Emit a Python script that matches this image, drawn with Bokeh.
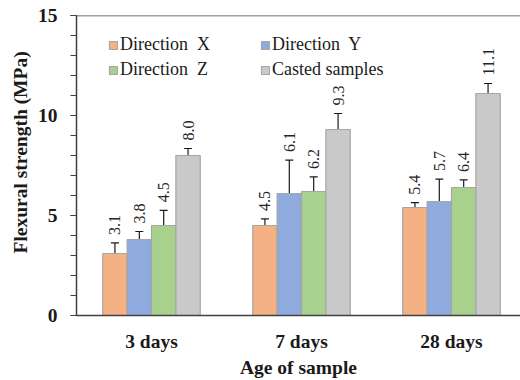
import numpy as np
from bokeh.plotting import figure
from bokeh.models import (ColumnDataSource, Range1d, FixedTicker, SingleIntervalTicker,
                          Whisker, TeeHead, Legend, LegendItem, Span, Title)
from bokeh.core.properties import value
from bokeh.embed import file_html
from bokeh.resources import INLINE

# ---- data ----
days = ["3 days", "7 days", "28 days"]
series_names = ["Direction  X", "Direction  Y", "Direction  Z", "Casted samples"]
dir_x = [3.1, 4.5, 5.4]
dir_y = [3.8, 6.1, 5.7]
dir_z = [4.5, 6.2, 6.4]
casted = [8.0, 9.3, 11.1]
err_x = [0.53, 0.33, 0.24]
err_y = [0.40, 1.67, 1.12]
err_z = [0.76, 0.73, 0.38]
err_c = [0.35, 0.80, 0.50]
y_ticks_major = 5

values = [dir_x, dir_y, dir_z, casted]
errors = [err_x, err_y, err_z, err_c]
colors = ["#F4B183", "#8FAADC", "#A9D18E", "#C9C9C9"]

SERIF = "Liberation Serif"
AXIS_COL = "#404040"

p = figure(width=520, height=380, output_backend="svg", toolbar_location=None,
           x_range=Range1d(0.0, 2.96), y_range=Range1d(0, 15),
           min_border_left=76, min_border_right=0, min_border_top=15, min_border_bottom=65)
p.outline_line_color = None
p.xgrid.visible = False
p.ygrid.visible = False
p.background_fill_color = None
p.border_fill_color = None

bar_w = 0.1625
centers = np.arange(len(days)) + 0.5
items = []
for j, (vals, errs, col, name) in enumerate(zip(values, errors, colors, series_names)):
    xs = centers + (j - 1.5) * bar_w
    v = np.array(vals)
    e = np.array(errs)
    src = ColumnDataSource(dict(x=xs, top=v, upper=v + e, lower=v - e,
                                lab=[f"{t:.1f}" for t in vals]))
    r = p.vbar(x="x", top="top", width=bar_w, source=src, fill_color=col,
               line_color="#A6A6A6", line_width=1.2)
    items.append(LegendItem(label=name, renderers=[r]))
    wk = Whisker(source=src, base="x", upper="upper", lower="lower",
                 line_color="#1a1a1a", line_width=1.2,
                 upper_head=TeeHead(size=8, line_color="#1a1a1a", line_width=1.2),
                 lower_head=TeeHead(size=8, line_color="#1a1a1a", line_width=1.2))
    p.add_layout(wk)
    p.text(x="x", y="upper", text="lab", source=src, angle=np.pi / 2,
           text_align="left", text_baseline="middle", y_offset=-8,
           text_font=value(SERIF), text_font_size="16px", text_color="#262626")

# top frame line
p.add_layout(Span(location=15, dimension="width", line_color=AXIS_COL, line_width=1.5))

# y axis
ya = p.yaxis[0]
ya.ticker = SingleIntervalTicker(interval=y_ticks_major, num_minor_ticks=5)
ya.axis_line_color = AXIS_COL
ya.axis_line_width = 1.5
ya.major_tick_line_color = AXIS_COL
ya.minor_tick_line_color = AXIS_COL
ya.major_tick_line_width = 1.2
ya.minor_tick_line_width = 1.2
ya.major_tick_in = 0
ya.major_tick_out = 6
ya.minor_tick_in = 0
ya.minor_tick_out = 6
ya.major_label_standoff = 13
ya.major_label_text_font = SERIF
ya.major_label_text_font_style = "bold"
ya.major_label_text_font_size = "19.5px"
ya.major_label_text_color = "#1a1a1a"

# y axis title, sitting a little above the frame centre as in the original
p.add_layout(Title(text="Flexural strength (MPa)", align="left", offset=62, standoff=8,
                   text_font=SERIF, text_font_style="bold", text_font_size="19.5px",
                   text_color="#1a1a1a"), "left")

# x axis
xa = p.xaxis[0]
xa.ticker = FixedTicker(ticks=list(centers))
xa.major_label_overrides = {float(c): d for c, d in zip(centers, days)}
xa.axis_line_color = AXIS_COL
xa.axis_line_width = 1.5
xa.major_tick_line_color = None
xa.minor_tick_line_color = None
xa.major_tick_out = 0
xa.major_tick_in = 0
xa.major_label_standoff = 15
xa.major_label_text_font = SERIF
xa.major_label_text_font_style = "bold"
xa.major_label_text_font_size = "19.5px"
xa.major_label_text_color = "#1a1a1a"
xa.axis_label = "Age of sample"
xa.axis_label_text_font = SERIF
xa.axis_label_text_font_style = "bold"
xa.axis_label_text_font_size = "19.5px"
xa.axis_label_text_color = "#1a1a1a"
xa.axis_label_standoff = 2

legend = Legend(items=items, location=(32, 235), orientation="horizontal", ncols=2,
                padding=0, margin=0, spacing=4, glyph_width=10, glyph_height=10,
                label_standoff=2, label_height=21, label_width=136,
                label_text_font=SERIF, label_text_font_size="18px",
                label_text_color="#1a1a1a",
                background_fill_alpha=0, border_line_color=None)
p.add_layout(legend, "center")

open("out.html", "w").write(file_html(p, INLINE))
